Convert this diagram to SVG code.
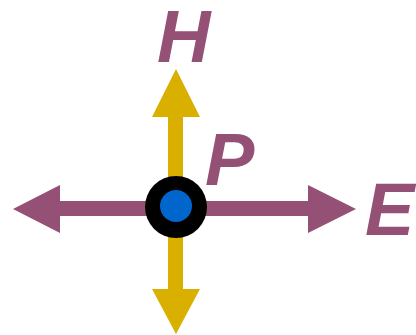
<svg xmlns="http://www.w3.org/2000/svg" width="416" height="335" viewBox="0 0 416 335">
  <style>
    .lbl { font-family: "Liberation Sans", Arial, sans-serif; font-weight: bold; font-style: italic; font-size: 74px; fill: #955075; }
    .purple { fill: #955075; }
    .gold { fill: #DAB000; }
  </style>
  <rect width="416" height="335" fill="#ffffff"/>
  <g id="connectors">
    <!-- horizontal double arrow -->
    <g id="axis-e" class="purple">
      <rect x="58" y="201" width="252" height="15"/>
      <polygon points="13,209 60,185 60,233"/>
      <polygon points="356,209 308,185 308,233"/>
    </g>
    <!-- vertical double arrow -->
    <g id="axis-h" class="gold">
      <rect x="168" y="115" width="15" height="176"/>
      <polygon points="176,69 152,117 200,117"/>
      <polygon points="176,334 152,289 200,289"/>
    </g>
  </g>
  <g id="point-p">
    <circle cx="176" cy="207" r="31" fill="#000000"/>
    <circle cx="176" cy="206" r="16" fill="#0066CC"/>
  </g>
  <g id="label-h"><text class="lbl" x="157" y="62">H</text></g>
  <g id="label-p"><text class="lbl" x="205" y="185">P</text></g>
  <g id="label-e"><text class="lbl" x="365" y="235">E</text></g>
</svg>
